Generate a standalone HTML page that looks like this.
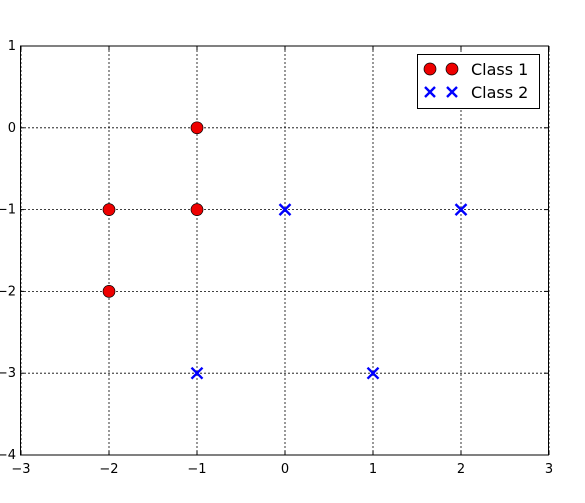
<!DOCTYPE html>
<html><head><meta charset="utf-8"><style>
body{margin:0;background:#fff;}
svg text{font-family:"DejaVu Sans","Liberation Sans",sans-serif;}
</style></head><body>
<svg id="chart" width="585" height="498">
<rect width="585" height="498" fill="#fff"/>
<g id="grid"></g>
<g id="ticks"></g>
<g id="marks"></g>
<rect x="20.5" y="46" width="528" height="409" fill="none" stroke="#000" stroke-width="1"/>
<g>
<rect x="417.5" y="54.5" width="122" height="54" fill="#fff" stroke="#000"/>
<circle cx="430" cy="69" r="6" fill="#e00" stroke="#000" stroke-width="0.7"/>
<circle cx="452" cy="69" r="6" fill="#e00" stroke="#000" stroke-width="0.7"/>
<text x="471" y="75" font-size="16">Class 1</text>
<path d="M425 87l10 10M435 87l-10 10M447 87l10 10M457 87l-10 10" stroke="#00f" stroke-width="2.4"/>
<text x="471" y="98" font-size="16">Class 2</text>
</g>
</svg>
<script>
const xTicks=[-3,-2,-1,0,1,2,3];
const yTicks=[1,0,-1,-2,-3,-4];
const class1X=[-1,-2,-1,-2];
const class1Y=[0,-1,-1,-2];
const class2X=[0,2,-1,1];
const class2Y=[-1,-1,-3,-3];
const NS="http://www.w3.org/2000/svg";
const X=v=>21+(v+3)*88, Y=v=>46+(1-v)*81.8;
function mk(t,a,p){const e=document.createElementNS(NS,t);for(const k in a)e.setAttribute(k,a[k]);p.appendChild(e);return e;}
const grid=document.getElementById('grid'),ticks=document.getElementById('ticks'),marks=document.getElementById('marks');
xTicks.forEach(v=>{const x=X(v);
 const g=mk('line',{x1:x,x2:x,y1:46,y2:455,stroke:'#000','stroke-dasharray':'2,2','stroke-width':0.8},grid);
 
 
 mk('line',{x1:x,x2:x,y1:455,y2:451,stroke:'#000'},ticks);mk('line',{x1:x,x2:x,y1:46,y2:50,stroke:'#000'},ticks);
 const t=mk('text',{x:x,y:473,'font-size':13,'text-anchor':'middle'},ticks);t.textContent=(v<0?'−'+(-v):v);
 
 });
yTicks.forEach(v=>{const y=Y(v);
 const g=mk('line',{x1:20,x2:548,y1:y,y2:y,stroke:'#000','stroke-dasharray':'2,2','stroke-width':0.8},grid);
 
 
 mk('line',{x1:20,x2:24,y1:y,y2:y,stroke:'#000'},ticks);mk('line',{x1:548,x2:544,y1:y,y2:y,stroke:'#000'},ticks);
 const t=mk('text',{x:16,y:y+4,'font-size':13,'text-anchor':'end'},ticks);t.textContent=(v<0?'−'+(-v):v);
 
 });
class1X.forEach((v,i)=>{const c=mk('circle',{cx:X(v),cy:Y(class1Y[i]),r:6,fill:'#e00',stroke:'#000','stroke-width':0.7},marks);
 
 });
class2X.forEach((v,i)=>{const x=X(v),y=Y(class2Y[i]);const p=mk('path',{d:`M${x-5.5} ${y-5.5}l11 11M${x+5.5} ${y-5.5}l-11 11`,stroke:'#00f','stroke-width':2.4},marks);
 
 });
</script>
</body></html>
